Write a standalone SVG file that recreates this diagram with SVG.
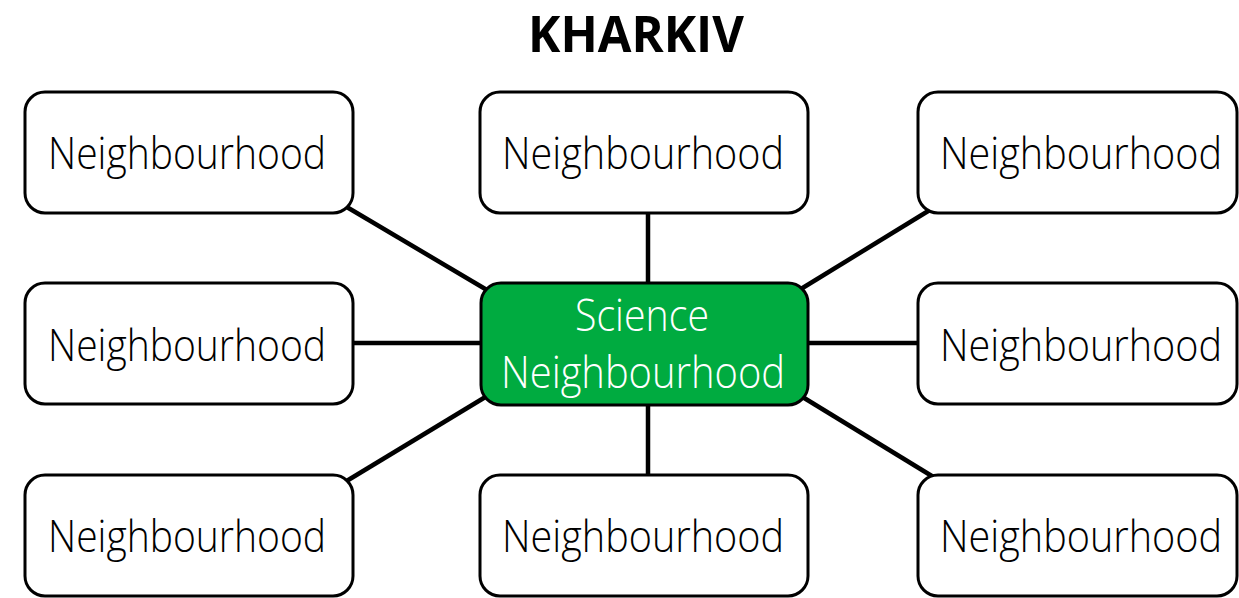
<svg xmlns="http://www.w3.org/2000/svg" width="1239" height="598" viewBox="0 0 1239 598">
  <style>
    .box { fill: #ffffff; stroke: #000000; stroke-width: 3; }
    .hub { fill: #00ab40; stroke: #000000; stroke-width: 3; }
    .lbl { font-family: "Open Sans", "Noto Sans", "Liberation Sans", sans-serif; font-weight: 300; font-size: 44px; fill: #000000; text-anchor: middle; }
    .hub-lbl { fill: #ffffff; }
    .title { font-family: "Open Sans", "Liberation Sans", sans-serif; font-weight: bold; font-size: 51px; fill: #000000; text-anchor: middle; }
    .link { stroke: #000000; stroke-width: 4.5; fill: none; }
  </style>

  <rect width="1239" height="598" fill="#ffffff"/>

  <text class="title" x="636" y="52" textLength="216" lengthAdjust="spacingAndGlyphs">KHARKIV</text>

  <!-- spokes from the hub to each surrounding box -->
  <g id="connectors">
    <line class="link" x1="340" y1="203" x2="492" y2="293"/>
    <line class="link" x1="648" y1="212" x2="648" y2="284"/>
    <line class="link" x1="938" y1="205" x2="796" y2="292"/>
    <line class="link" x1="352" y1="343" x2="482" y2="343"/>
    <line class="link" x1="807" y1="343" x2="919" y2="343"/>
    <line class="link" x1="492" y1="393" x2="340" y2="485"/>
    <line class="link" x1="648" y1="404" x2="648" y2="476"/>
    <line class="link" x1="796" y1="393" x2="940" y2="481"/>
  </g>

  <g id="node-top-left">
    <rect class="box" x="25" y="92" width="328" height="121" rx="20"/>
    <text class="lbl" x="187" y="169" textLength="278" lengthAdjust="spacingAndGlyphs">Neighbourhood</text>
  </g>
  <g id="node-top-center">
    <rect class="box" x="480" y="92" width="328" height="121" rx="20"/>
    <text class="lbl" x="643" y="169" textLength="282" lengthAdjust="spacingAndGlyphs">Neighbourhood</text>
  </g>
  <g id="node-top-right">
    <rect class="box" x="918" y="92" width="319" height="121" rx="20"/>
    <text class="lbl" x="1081" y="169" textLength="282" lengthAdjust="spacingAndGlyphs">Neighbourhood</text>
  </g>

  <g id="node-mid-left">
    <rect class="box" x="25" y="283" width="328" height="121" rx="20"/>
    <text class="lbl" x="187" y="361" textLength="278" lengthAdjust="spacingAndGlyphs">Neighbourhood</text>
  </g>
  <g id="node-hub">
    <rect class="hub" x="481" y="283" width="327" height="122" rx="20"/>
    <text class="lbl hub-lbl" x="642" y="331" textLength="134" lengthAdjust="spacingAndGlyphs">Science</text>
    <text class="lbl hub-lbl" x="643" y="388" textLength="284" lengthAdjust="spacingAndGlyphs">Neighbourhood</text>
  </g>
  <g id="node-mid-right">
    <rect class="box" x="918" y="283" width="319" height="121" rx="20"/>
    <text class="lbl" x="1081" y="361" textLength="282" lengthAdjust="spacingAndGlyphs">Neighbourhood</text>
  </g>

  <g id="node-bottom-left">
    <rect class="box" x="25" y="475" width="328" height="121" rx="20"/>
    <text class="lbl" x="187" y="552" textLength="278" lengthAdjust="spacingAndGlyphs">Neighbourhood</text>
  </g>
  <g id="node-bottom-center">
    <rect class="box" x="480" y="475" width="328" height="121" rx="20"/>
    <text class="lbl" x="643" y="552" textLength="282" lengthAdjust="spacingAndGlyphs">Neighbourhood</text>
  </g>
  <g id="node-bottom-right">
    <rect class="box" x="918" y="475" width="319" height="121" rx="20"/>
    <text class="lbl" x="1081" y="552" textLength="282" lengthAdjust="spacingAndGlyphs">Neighbourhood</text>
  </g>
</svg>
